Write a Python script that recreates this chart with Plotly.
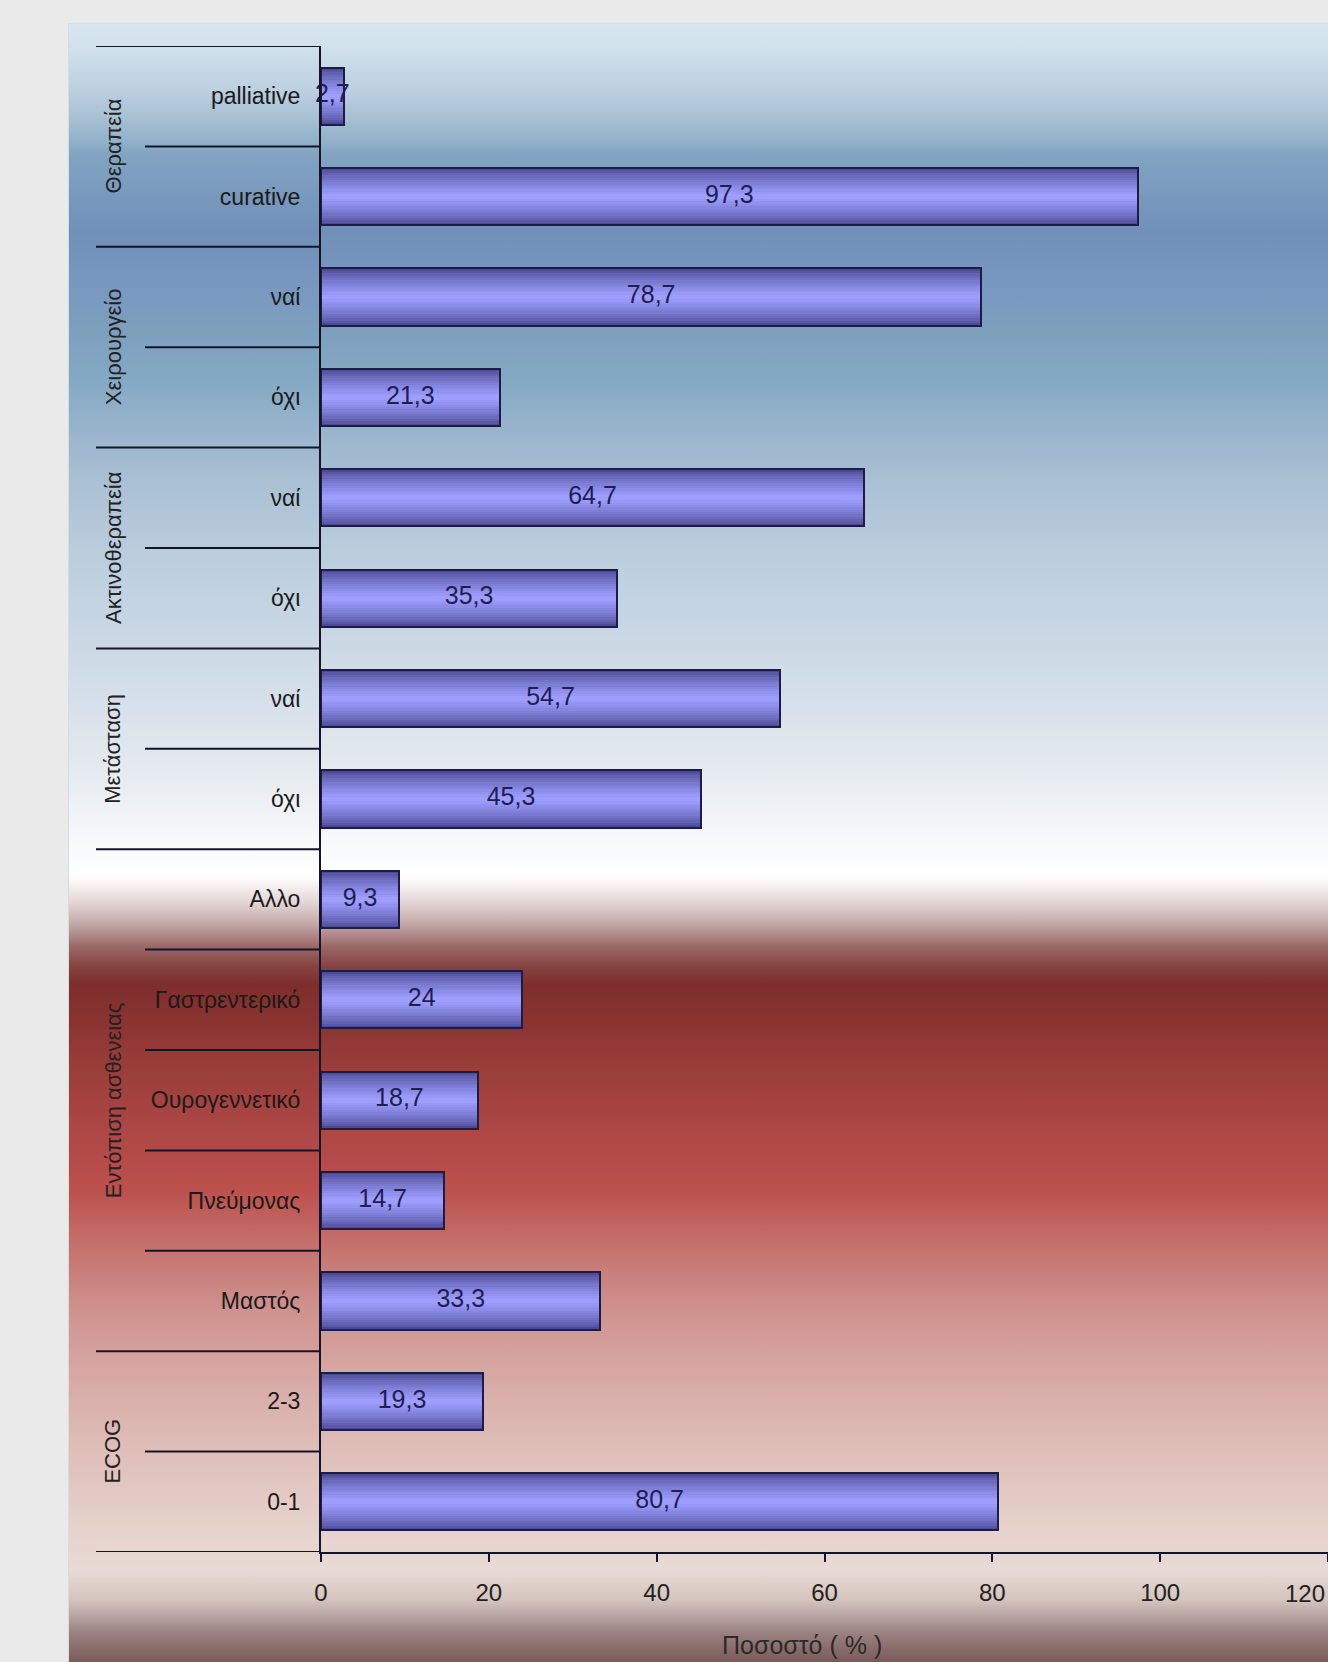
import base64
import plotly.graph_objects as go

# ---------------- data ----------------
groups = ["Θεραπεία", "Χειρουργείο", "Ακτινοθεραπεία", "Μετάσταση", "Εντόπιση ασθενειας", "ECOG"]
group_sizes = [2, 2, 2, 2, 5, 2]
categories = ["palliative", "curative", "ναί", "όχι", "ναί", "όχι", "ναί", "όχι",
              "Αλλο", "Γαστρεντερικό", "Ουρογεννετικό", "Πνεύμονας", "Μαστός", "2-3", "0-1"]
values = [2.7, 97.3, 78.7, 21.3, 64.7, 35.3, 54.7, 45.3, 9.3, 24, 18.7, 14.7, 33.3, 19.3, 80.7]
x_ticks = [0, 20, 40, 60, 80, 100, 120]
x_title = "Ποσοστό ( % )"

# ---------------- style ----------------
FONT = "Liberation Sans, Arial, sans-serif"
W, H = 1328, 1662
L, R, T, B = 321, 0, 46, 110
PW, PH = W - L - R, H - T - B
X_MAX = 120

def px_x(px):
    return (px - L) / PW

def px_y(py):
    return (H - B - py) / PH

# background gradient of the chart panel (pixel row -> colour)
bg_stops = [(23, '#d8e6f2'), (46, '#d2e2ec'), (89, '#bcd0e0'), (118, '#a8c0d4'), (143, '#8eb0c8'),
            (154, '#82a4c2'), (232, '#7090b8'), (286, '#7898c0'), (321, '#7c9ebc'), (375, '#82a8c4'),
            (429, '#98b4cc'), (482, '#aac0d4'), (560, '#bccede'), (703, '#d6e0ea'), (774, '#e6ebf0'),
            (828, '#f4f6f9'), (874, '#ffffff'), (881, '#fcf8f8'), (903, '#e4d4d4'), (924, '#c4a8a8'),
            (946, '#9c6a6a'), (967, '#84423f'), (985, '#7e2e2c'), (1024, '#8a3432'), (1060, '#983c38'),
            (1120, '#aa4644'), (1189, '#bc504c'), (1243, '#c4706c'), (1314, '#d09490'), (1386, '#d8aca8'),
            (1457, '#e0c0ba'), (1529, '#e6d2cc'), (1570, '#e8dad4'), (1600, '#d4c4be'), (1633, '#9a8280'),
            (1662, '#7a5a58')]
PANEL_X0, PANEL_Y0 = 68, 23
pw_, ph_ = W - PANEL_X0, H - PANEL_Y0
stops_svg = "".join(
    f"<stop offset='{(y - PANEL_Y0) / ph_:.4f}' stop-color='{c}'/>" for y, c in bg_stops)
svg = (f"<svg xmlns='http://www.w3.org/2000/svg' width='{pw_}' height='{ph_}' "
       f"viewBox='0 0 {pw_} {ph_}' preserveAspectRatio='none'>"
       f"<defs><linearGradient id='g' x1='0' y1='0' x2='0' y2='1'>{stops_svg}</linearGradient></defs>"
       f"<rect x='0' y='0' width='{pw_}' height='{ph_}' fill='url(#g)'/>"
       f"<rect x='0.5' y='0.5' width='{pw_+2}' height='{ph_+2}' fill='none' stroke='#d4dce4' stroke-width='1'/></svg>")
svg_uri = "data:image/svg+xml;base64," + base64.b64encode(svg.encode("utf-8")).decode("ascii")

# ---------------- figure ----------------
N = len(values)
idx = list(range(N))
fig = go.Figure()

dark = (0x4c, 0x4a, 0x94)
light = (0x9e, 0x9e, 0xff)
layers = 12
full_w = 0.57
for k in range(layers):
    f = (k / (layers - 1)) ** 0.75
    c = tuple(int(round(dark[j] + (light[j] - dark[j]) * f)) for j in range(3))
    fig.add_trace(go.Bar(
        y=idx, x=values, orientation='h', width=full_w * (1 - k / layers),
        marker=dict(color=f"rgb{c}", line=dict(width=0)),
        showlegend=False, hoverinfo='skip'))
# outline
fig.add_trace(go.Bar(
    y=idx, x=values, orientation='h', width=full_w,
    marker=dict(color='rgba(0,0,0,0)', line=dict(width=2, color='#1c1c46')),
    showlegend=False, hoverinfo='skip'))

labels = [f"{v:g}".replace('.', ',') for v in values]
fig.add_trace(go.Scatter(
    x=[v / 2 for v in values], y=idx, mode='text', text=labels,
    textfont=dict(size=25, color='#1e1e50', family=FONT),
    showlegend=False, hoverinfo='skip', cliponaxis=False))

# divider lines on the category axis
shapes = []
group_bounds = [0]
for s in group_sizes:
    group_bounds.append(group_bounds[-1] + s)
LINE = '#14142a'
for b in range(N + 1):
    x0 = px_x(96) if b in group_bounds else px_x(145)
    shapes.append(dict(type='line', xref='paper', yref='y', x0=x0, x1=0, y0=b - 0.5, y1=b - 0.5,
                       line=dict(color=LINE, width=2), layer='above'))

annotations = []
for gi, g in enumerate(groups):
    center = (group_bounds[gi] + group_bounds[gi + 1] - 1) / 2
    annotations.append(dict(text=g, xref='paper', yref='y', x=px_x(113), y=center,
                            textangle=-90, showarrow=False, xanchor='center', yanchor='middle',
                            font=dict(size=22, color='#222222', family=FONT)))
annotations.append(dict(text=x_title, xref='paper', yref='paper', x=px_x(802), y=px_y(1645),
                        showarrow=False, xanchor='center', yanchor='middle',
                        font=dict(size=25, color='#2a2a2a', family=FONT)))
# last tick label sits at the right edge of the figure; keep it fully inside
annotations.append(dict(text=str(x_ticks[-1]), xref='paper', yref='paper', x=x_ticks[-1] / X_MAX,
                        y=px_y(1593), showarrow=False, xanchor='right', yanchor='middle',
                        xshift=-1, font=dict(size=24, color='#222222', family=FONT)))

fig.update_layout(
    width=W, height=H, margin=dict(l=L, r=R, t=T, b=B),
    paper_bgcolor='#eaeaea', plot_bgcolor='rgba(0,0,0,0)',
    barmode='overlay', bargap=0, showlegend=False,
    font=dict(family=FONT, color='#1a1a1a'),
    shapes=shapes, annotations=annotations,
    images=[dict(source=svg_uri, xref='paper', yref='paper', x=px_x(PANEL_X0), y=px_y(PANEL_Y0),
                 sizex=pw_ / PW, sizey=ph_ / PH, xanchor='left', yanchor='top',
                 sizing='stretch', layer='below')],
)
fig.update_xaxes(range=[0, X_MAX], tickvals=x_ticks, showgrid=False, zeroline=False,
                 showline=True, linecolor=LINE, linewidth=2, ticks='outside', ticklen=8,
                 tickwidth=2, tickcolor=LINE, tickfont=dict(size=24, color='#222222'),
                 ticklabelstandoff=10)
fig.update_yaxes(range=[N - 0.5, -0.5], tickvals=idx, ticktext=categories, showgrid=False,
                 zeroline=False, showline=True, linecolor=LINE, linewidth=2, ticks='',
                 tickfont=dict(size=23, color='#1a1a1a'), ticklabelstandoff=14)

fig.write_html("out.html", config={"displayModeBar": False},
               post_script="document.body.style.margin='0';document.body.style.overflow='hidden';")
